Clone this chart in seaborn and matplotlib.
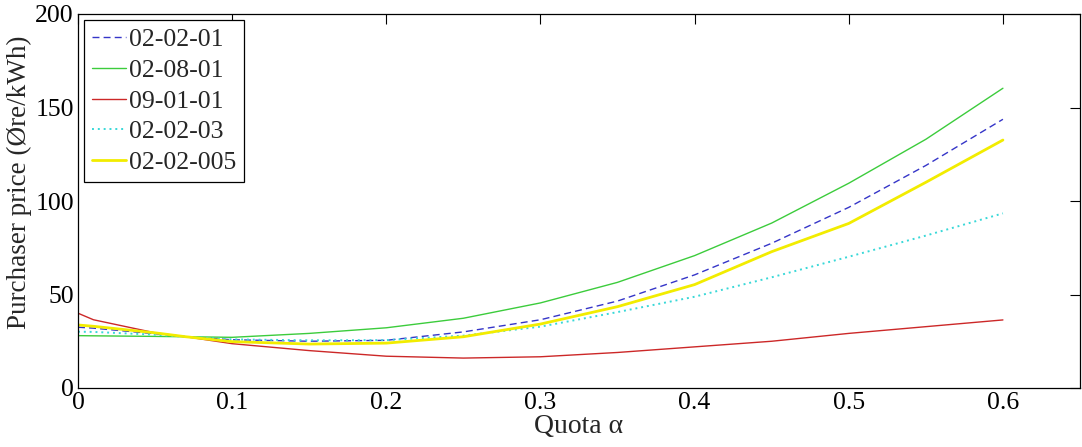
import matplotlib
matplotlib.use("Agg")
import matplotlib.pyplot as plt
import seaborn as sns
import pandas as pd

quota = [0.0, 0.01, 0.05, 0.07, 0.10, 0.15, 0.20, 0.25, 0.30, 0.35, 0.40, 0.45, 0.50, 0.55, 0.60]

s_020201 = [32.5, 32.0, 29.0, 27.4, 25.8, 25.0, 25.5, 30.0, 36.5, 46.5, 60.5, 77.4, 96.6, 119.0, 143.7]
s_020801 = [28.0, 27.9, 27.6, 27.4, 27.1, 29.2, 32.2, 37.3, 45.5, 56.5, 70.8, 88.2, 109.5, 133.0, 160.3]
s_090101 = [40.0, 36.5, 29.5, 27.4, 23.7, 20.0, 17.0, 16.0, 16.7, 19.0, 22.0, 25.0, 29.2, 32.8, 36.4]
s_020203 = [30.1, 30.0, 28.5, 27.4, 26.0, 25.5, 25.6, 28.0, 32.8, 40.6, 48.8, 59.2, 70.2, 81.5, 93.4]
s_0202005 = [33.7, 33.0, 29.5, 27.4, 24.8, 23.5, 24.0, 27.4, 34.2, 43.5, 55.3, 72.9, 88.0, 110.0, 132.6]

labels = ["02-02-01", "02-08-01", "09-01-01", "02-02-03", "02-02-005"]
series = [s_020201, s_020801, s_090101, s_020203, s_0202005]

colors = ["#3535c8", "#3ccc3c", "#cc2828", "#38d8d8", "#f2ec00"]
styles = [(0, (5, 3)), "-", "-", (0, (1, 2)), "-"]
widths = [1.0, 1.0, 1.0, 1.4, 2.0]

rows = []
for lab, vals in zip(labels, series):
    for q, v in zip(quota, vals):
        rows.append({"quota": q, "price": v, "series": lab})
df = pd.DataFrame(rows)

sns.set_style("white")
plt.rcParams["font.family"] = ["Liberation Serif", "DejaVu Serif"]
plt.rcParams["mathtext.fontset"] = "stix"

fig = plt.figure(figsize=(10.82, 4.47), dpi=100)
ax = fig.add_axes([78 / 1082, 1 - 388 / 447, (1080 - 78) / 1082, (388 - 14) / 447])

for lab, c, ls, lw in zip(labels, colors, styles, widths):
    sub = df[df["series"] == lab]
    sns.lineplot(data=sub, x="quota", y="price", ax=ax, color=c, linestyle=ls,
                 linewidth=lw, label=lab, estimator=None, sort=False)

ax.set_xlim(0, 0.65)
ax.set_ylim(0, 200)
ax.set_xticks([0, 0.1, 0.2, 0.3, 0.4, 0.5, 0.6])
ax.set_xticklabels(["0", "0.1", "0.2", "0.3", "0.4", "0.5", "0.6"])
ax.set_yticks([0, 50, 100, 150, 200])
ax.tick_params(direction="in", length=7, width=0.8, top=True, right=True,
               labelsize=18.5, colors="black", pad=3)
for sp in ax.spines.values():
    sp.set_visible(True)
    sp.set_color("black")
    sp.set_linewidth(0.9)

ax.set_xlabel("Quota α", fontsize=20, labelpad=0)
ax.set_ylabel("Purchaser price (Øre/kWh)", fontsize=19.5)
ax.yaxis.set_label_coords(-0.046, 0.55)

leg = ax.legend(loc="upper left", fontsize=18.5, frameon=True, fancybox=False,
                edgecolor="black", framealpha=1, handlelength=1.3,
                handletextpad=0.15, labelspacing=0.3, borderpad=0.3,
                borderaxespad=0.25)
leg.get_frame().set_linewidth(0.9)

fig.savefig("out.png", dpi=100)
